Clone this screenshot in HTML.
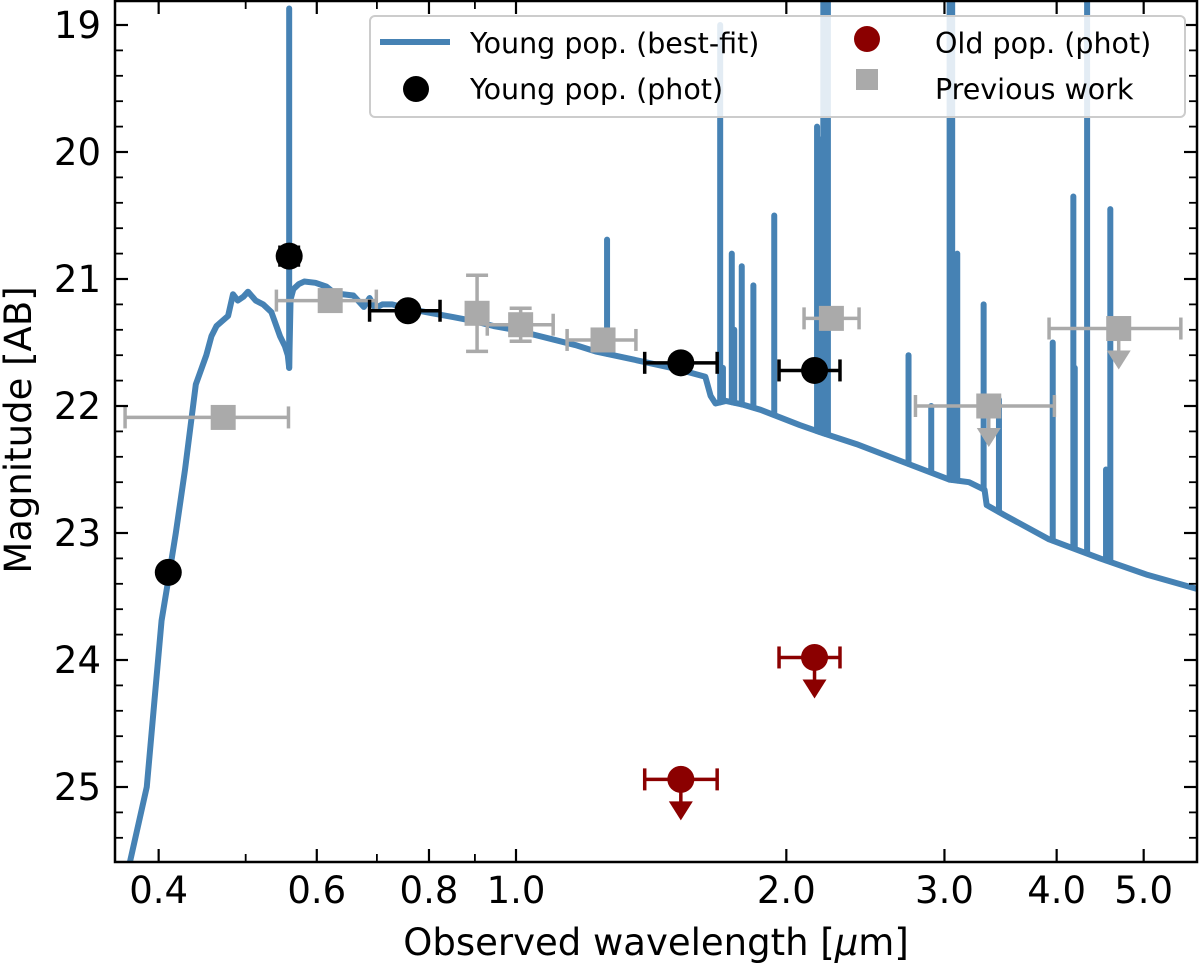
<!DOCTYPE html>
<html><head><meta charset="utf-8"><style>
body{margin:0;background:#fff;}
svg text{font-family:"DejaVu Sans","Liberation Sans",sans-serif;}
</style></head><body>
<svg id="c" width="1200" height="966" xmlns="http://www.w3.org/2000/svg"></svg>
<script>
// ---- data ----
const contWl=[0.37,0.388,0.403,0.41,0.418,0.428,0.44,0.452,0.458,0.464,0.471,0.478,0.484,0.49,0.497,0.503,0.513,0.523,0.534,0.546,0.553,0.557,0.559,0.561,0.565,0.573,0.581,0.598,0.615,0.625,0.633,0.641,0.659,0.677,0.687,0.697,0.71,0.728,0.766,0.807,0.851,0.896,0.944,0.995,1.049,1.105,1.164,1.226,1.363,1.513,1.625,1.647,1.668,1.713,1.791,1.872,2.07,2.189,2.394,2.697,3.04,3.195,3.325,3.343,3.501,3.923,4.471,5.05,5.8];
const contMag=[25.65,25.0,23.69,23.37,23.0,22.5,21.83,21.6,21.45,21.37,21.33,21.29,21.12,21.17,21.14,21.1,21.17,21.2,21.26,21.45,21.53,21.6,21.7,21.16,21.08,21.04,21.02,21.03,21.06,21.1,21.13,21.12,21.13,21.22,21.15,21.23,21.2,21.2,21.24,21.27,21.3,21.33,21.37,21.4,21.44,21.48,21.52,21.57,21.64,21.71,21.77,21.92,21.98,21.96,21.99,22.03,22.15,22.21,22.3,22.44,22.58,22.6,22.66,22.78,22.86,23.05,23.2,23.33,23.45];
const lineWl=[0.559,1.263,1.688,1.70,1.739,1.75,1.784,1.838,1.939,2.164,2.175,2.199,2.212,2.225,2.736,2.9,3.04,3.06,3.1,3.317,3.45,3.96,4.175,4.19,4.325,4.54,4.59];
const lineMag=[18.87,20.69,19.0,21.7,20.8,21.4,20.9,21.05,20.5,19.8,19.9,18.8,18.8,18.8,21.6,22.0,18.8,18.8,20.8,21.2,21.95,21.5,20.35,21.7,18.8,22.5,20.45];
const youngWl=[0.41,0.559,0.758,1.526,2.15];
const youngMag=[23.31,20.82,21.25,21.66,21.72];
const youngXlo=[null,null,0.687,1.391,1.963];
const youngXhi=[null,null,0.823,1.675,2.295];
const youngYerr=[0.03,0.07,0.03,0,0.03];
const oldWl=[1.526,2.15];
const oldMag=[24.94,23.98];
const oldXlo=[1.391,1.963];
const oldXhi=[1.675,2.295];
const prevWl=[0.472,0.621,0.905,1.012,1.25,2.245,3.361,4.69];
const prevMag=[22.09,21.17,21.27,21.36,21.48,21.31,22.0,21.39];
const prevXlo=[0.367,0.541,0.767,0.929,1.14,2.093,2.785,3.923];
const prevXhi=[0.558,0.699,0.767,1.1,1.36,2.41,3.977,5.5];
const prevYerr=[0,0,0.3,0.13,0,0,0,0];
const prevUL=[false,false,false,false,false,false,true,true];
const xTickVals=[0.4,0.6,0.8,1.0,2.0,3.0,4.0,5.0];
const xTickLabels=["0.4","0.6","0.8","1.0","2.0","3.0","4.0","5.0"];
const xMinor=[0.5,0.7,0.9];
const yTickVals=[19,20,21,22,23,24,25];
// ---- axes ----
const L=115,R=1197,T=1,B=862;
const X=w=>516+898*Math.log10(w);
const Y=m=>25+(m-19)*127;
const svg=document.getElementById('c');
const NS='http://www.w3.org/2000/svg';
function mk(tag,attrs,parent){const e=document.createElementNS(NS,tag);for(const k in attrs)e.setAttribute(k,attrs[k]);(parent||svg).appendChild(e);return e;}
const defs=mk('defs',{});const cp=mk('clipPath',{id:'clip'},defs);mk('rect',{x:L,y:T,width:R-L,height:B-T},cp);
const plot=mk('g',{'clip-path':'url(#clip)'});


let pts=[];for(let i=0;i<contWl.length;i++)pts.push([X(contWl[i]),Y(contMag[i])]);
const sp=mk('polyline',{points:pts.map(p=>p.join(',')).join(' '),fill:'none',stroke:'#4682b4','stroke-width':6,'stroke-linejoin':'round'},plot);


function contAt(w){for(let i=1;i<contWl.length;i++){if(contWl[i]>=w){const t=(w-contWl[i-1])/(contWl[i]-contWl[i-1]);return contMag[i-1]+t*(contMag[i]-contMag[i-1]);}}return contMag[contMag.length-1];}
for(let i=0;i<lineWl.length;i++){const x=X(lineWl[i]);
 const l=mk('line',{x1:x,x2:x,y1:Y(contAt(lineWl[i])),y2:Y(lineMag[i]),stroke:'#4682b4','stroke-width':6,'stroke-linecap':'round'},plot);
 
 }
function ebar(g,x,y,xlo,xhi,yerr,col){
 if(xlo!=null&&xhi!=null&&xhi>xlo){mk('line',{x1:X(xlo),x2:X(xhi),y1:Y(y),y2:Y(y),stroke:col,'stroke-width':3.5},g);
  mk('line',{x1:X(xlo),x2:X(xlo),y1:Y(y)-11,y2:Y(y)+11,stroke:col,'stroke-width':3.5},g);
  mk('line',{x1:X(xhi),x2:X(xhi),y1:Y(y)-11,y2:Y(y)+11,stroke:col,'stroke-width':3.5},g);}
 if(yerr>0){const a=Y(y-yerr),b=Y(y+yerr);mk('line',{x1:X(x),x2:X(x),y1:a,y2:b,stroke:col,'stroke-width':3.5},g);
  mk('line',{x1:X(x)-11,x2:X(x)+11,y1:a,y2:a,stroke:col,'stroke-width':3.5},g);mk('line',{x1:X(x)-11,x2:X(x)+11,y1:b,y2:b,stroke:col,'stroke-width':3.5},g);}
}
function arrow(g,x,y,col){const px=X(x),py=Y(y);mk('line',{x1:px,x2:px,y1:py,y2:py+26,stroke:col,'stroke-width':3.5},g);
 mk('polygon',{points:`${px-12},${py+22} ${px+12},${py+22} ${px},${py+41}`,fill:col},g);}
for(let i=0;i<prevWl.length;i++){const g=mk('g',{},plot);
 
 
 ebar(g,prevWl[i],prevMag[i],prevXlo[i],prevXhi[i],prevYerr[i],'#aaaaaa');
 if(prevUL[i])arrow(g,prevWl[i],prevMag[i],'#aaaaaa');
 mk('rect',{x:X(prevWl[i])-12.5,y:Y(prevMag[i])-12.5,width:25,height:25,fill:'#aaaaaa'},g);}
for(let i=0;i<youngWl.length;i++){const g=mk('g',{},plot);
 
 
 ebar(g,youngWl[i],youngMag[i],youngXlo[i],youngXhi[i],youngYerr[i],'#000');
 mk('circle',{cx:X(youngWl[i]),cy:Y(youngMag[i]),r:13.5,fill:'#000'},g);}
for(let i=0;i<oldWl.length;i++){const g=mk('g',{},plot);
 
 
 ebar(g,oldWl[i],oldMag[i],oldXlo[i],oldXhi[i],0,'#8b0000');arrow(g,oldWl[i],oldMag[i],'#8b0000');
 mk('circle',{cx:X(oldWl[i]),cy:Y(oldMag[i]),r:13.5,fill:'#8b0000'},g);}
// ticks
const ax=mk('g',{});


for(let i=0;i<xTickVals.length;i++){const x=X(xTickVals[i]);
 mk('line',{x1:x,x2:x,y1:B,y2:B-13,stroke:'#000','stroke-width':2.2},ax);mk('line',{x1:x,x2:x,y1:T,y2:T+13,stroke:'#000','stroke-width':2.2},ax);
 const t=mk('text',{x:x,y:B+41,'text-anchor':'middle','font-size':37},ax);t.textContent=xTickLabels[i];
 
 }
for(const v of xMinor){const x=X(v);mk('line',{x1:x,x2:x,y1:B,y2:B-8,stroke:'#000','stroke-width':1.8},ax);mk('line',{x1:x,x2:x,y1:T,y2:T+8,stroke:'#000','stroke-width':1.8},ax);}
for(let m=18.8;m<=26;m+=0.2){const y=Y(m);if(y<T||y>B)continue;const maj=Math.abs(m-Math.round(m))<0.01;const len=maj?13:8;
 mk('line',{x1:L,x2:L+len,y1:y,y2:y,stroke:'#000','stroke-width':maj?2.2:1.8},ax);mk('line',{x1:R,x2:R-len,y1:y,y2:y,stroke:'#000','stroke-width':maj?2.2:1.8},ax);}
for(const v of yTickVals){const t=mk('text',{x:L-14,y:Y(v)+13,'text-anchor':'end','font-size':37},ax);t.textContent=String(v);
 
 }
mk('rect',{x:L,y:T,width:R-L,height:B-T,fill:'none',stroke:'#000','stroke-width':2.5},ax);
const xt=mk('text',{x:656,y:955,'text-anchor':'middle','font-size':37},ax);xt.innerHTML='Observed wavelength [<tspan font-style="italic">μ</tspan>m]';


const yt=mk('text',{x:0,y:0,'text-anchor':'middle','font-size':37,transform:'translate(31,430) rotate(-90)'},ax);yt.textContent='Magnitude [AB]';


// legend
const lg=mk('g',{});


mk('rect',{x:370,y:16,width:815,height:101,rx:5,fill:'#fff','fill-opacity':0.85,stroke:'#ccc','stroke-width':2},lg);
mk('line',{x1:380,x2:450,y1:42,y2:42,stroke:'#4682b4','stroke-width':6},lg);
mk('circle',{cx:416,cy:89,r:13,fill:'#000'},lg);
mk('circle',{cx:867,cy:39,r:13,fill:'#8b0000'},lg);
mk('rect',{x:856,y:69,width:22,height:21,fill:'#aaaaaa'},lg);
const lt=[['Young pop. (best-fit)',470,53],['Young pop. (phot)',470,99],['Old pop. (phot)',935,53],['Previous work',935,99]];
for(const [s,x,y] of lt){const t=mk('text',{x:x,y:y,'font-size':28.5},lg);t.textContent=s;
 
 }
</script>
</body></html>
